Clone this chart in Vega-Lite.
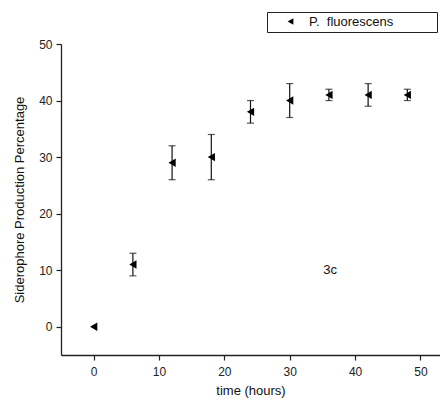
{
  "$schema": "https://vega.github.io/schema/vega-lite/v6.json",
  "autosize": {"type": "none"},
  "width": 379,
  "height": 311,
  "padding": {"left": 61, "top": 44, "right": 0, "bottom": 47},
  "background": "white",
  "config": {
    "font": "Liberation Sans",
    "view": {"stroke": null},
    "axis": {
      "domainColor": "#222",
      "domainWidth": 1.3,
      "tickColor": "#222",
      "tickWidth": 1.2,
      "grid": false,
      "labelFont": "Liberation Sans",
      "labelFontSize": 12,
      "labelColor": "#222",
      "titleFont": "Liberation Sans",
      "titleFontSize": 13,
      "titleFontWeight": "normal",
      "titleColor": "#111"
    }
  },
  "datasets": {
    "pts": [
      {"time": 0, "value": 0, "lo": null, "hi": null, "series": "P.\u00a0 fluorescens"},
      {"time": 6, "value": 11, "lo": 9, "hi": 13, "series": "P.\u00a0 fluorescens"},
      {"time": 12, "value": 29, "lo": 26, "hi": 32, "series": "P.\u00a0 fluorescens"},
      {"time": 18, "value": 30, "lo": 26, "hi": 34, "series": "P.\u00a0 fluorescens"},
      {"time": 24, "value": 38, "lo": 36, "hi": 40, "series": "P.\u00a0 fluorescens"},
      {"time": 30, "value": 40, "lo": 37, "hi": 43, "series": "P.\u00a0 fluorescens"},
      {"time": 36, "value": 41, "lo": 40, "hi": 42, "series": "P.\u00a0 fluorescens"},
      {"time": 42, "value": 41, "lo": 39, "hi": 43, "series": "P.\u00a0 fluorescens"},
      {"time": 48, "value": 41, "lo": 40, "hi": 42, "series": "P.\u00a0 fluorescens"}
    ],
    "note": [{"time": 36.2, "value": 10, "label": "3c"}]
  },
  "data": {"name": "pts"},
  "layer": [
    {
      "mark": {"type": "rule", "color": "#111", "strokeWidth": 1.2},
      "encoding": {
        "x": {"field": "time", "type": "quantitative",
          "scale": {"domain": [-5, 53], "nice": false, "zero": false},
          "axis": {
            "title": "time (hours)",
            "values": [0, 5, 10, 15, 20, 25, 30, 35, 40, 45, 50],
            "labelExpr": "datum.value % 10 === 0 ? datum.label : ''",
            "tickSize": {"condition": {"test": "datum.value % 10 === 0", "value": 5}, "value": 3},
            "labelPadding": 6,
            "titlePadding": 7
          }
        },
        "y": {"field": "lo", "type": "quantitative",
          "scale": {"domain": [-5, 50], "nice": false, "zero": false},
          "axis": {
            "title": "Siderophore Production Percentage",
            "values": [0, 5, 10, 15, 20, 25, 30, 35, 40, 45, 50],
            "labelExpr": "datum.value % 10 === 0 ? datum.label : ''",
            "tickSize": {"condition": {"test": "datum.value % 10 === 0", "value": 5}, "value": 3},
            "labelPadding": 4,
            "titlePadding": 12
          }
        },
        "y2": {"field": "hi"}
      }
    },
    {
      "mark": {"type": "tick", "orient": "horizontal", "color": "#111", "size": 7, "thickness": 1.2},
      "encoding": {
        "x": {"field": "time", "type": "quantitative"},
        "y": {"field": "lo", "type": "quantitative"}
      }
    },
    {
      "mark": {"type": "tick", "orient": "horizontal", "color": "#111", "size": 7, "thickness": 1.2},
      "encoding": {
        "x": {"field": "time", "type": "quantitative"},
        "y": {"field": "hi", "type": "quantitative"}
      }
    },
    {
      "mark": {"type": "point", "filled": true, "color": "black", "opacity": 1, "size": 70},
      "encoding": {
        "x": {"field": "time", "type": "quantitative"},
        "y": {"field": "value", "type": "quantitative"},
        "shape": {"field": "series", "type": "nominal",
          "scale": {"range": ["triangle-left"]},
          "legend": {
            "title": null,
            "orient": "none",
            "legendX": 206,
            "legendY": -32,
            "strokeColor": "#222",
            "fillColor": "white",
            "padding": 3,
            "symbolOffset": 14,
            "symbolSize": 45,
            "symbolFillColor": "black",
            "symbolStrokeColor": "black",
            "labelOffset": 12,
            "labelFont": "Liberation Sans",
            "labelFontSize": 13,
            "labelColor": "#111",
            "labelLimit": 300,
            "labelExpr": "datum.label + '\u2800\u2800\u2800\u2800'"
          }
        }
      }
    },
    {
      "data": {"name": "note"},
      "mark": {"type": "text", "font": "Liberation Sans", "fontSize": 13, "color": "#111"},
      "encoding": {
        "x": {"field": "time", "type": "quantitative"},
        "y": {"field": "value", "type": "quantitative"},
        "text": {"field": "label"}
      }
    }
  ]
}
